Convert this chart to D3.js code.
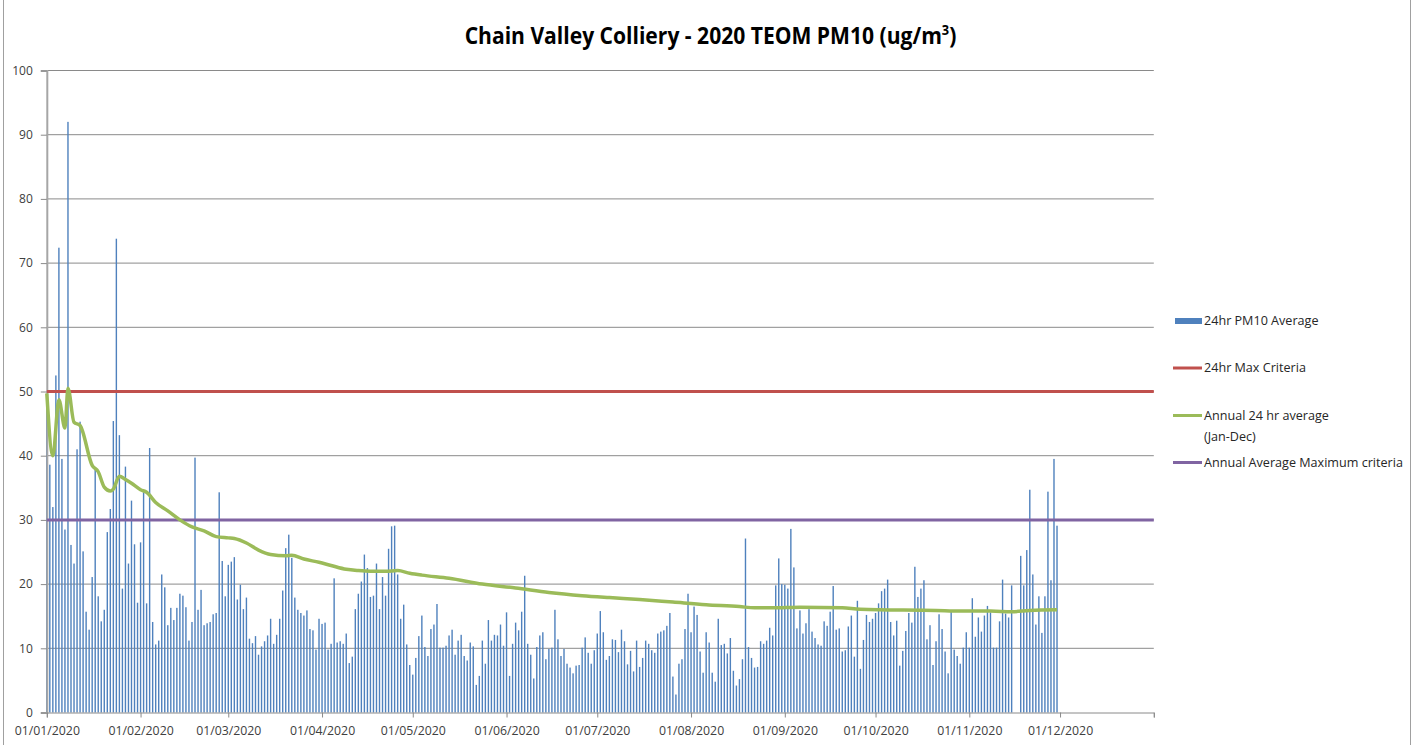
<!DOCTYPE html>
<html>
<head>
<meta charset="utf-8">
<script src="https://cdn.jsdelivr.net/npm/d3@7"></script>
<style>
  body { margin: 0; background: #fff; }
  text { font-family: "Open Sans", sans-serif; }
</style>
</head>
<body>
<div id="chart"></div>
<script>
const width = 1419;
const height = 745;

const startDate = "2020-01-01";
const endDate = "2021-01-01";

// daily 24hr PM10 averages, one array per month
const pm10Jan = [49.5, 38.6, 32, 52.5, 72.4, 39.5, 28.5, 92, 26.1, 23.2, 41, 45.3, 25.1, 15.7, 12.9, 21.1, 37.8, 18.1, 14.2, 16.0, 28.1, 31.7, 45.4, 73.8, 43.2, 19.3, 38.3, 23.2, 33.0, 26.2, 17.1];
const pm10Feb = [26.5, 34.3, 17.0, 41.2, 14.1, 10.6, 11.2, 21.5, 19.5, 13.6, 16.3, 14.4, 16.3, 18.5, 18.2, 16.4, 11.2, 14.1, 39.7, 16.0, 19.1, 13.6, 13.9, 14.1, 15.3, 15.5, 34.3, 23.6, 18.1];
const pm10Mar = [23.0, 23.5, 24.2, 17.6, 19.9, 16.1, 17.9, 11.5, 10.8, 11.9, 9.0, 10.3, 11.1, 12.0, 14.6, 10.7, 12.1, 14.6, 19.0, 25.6, 27.7, 24.1, 17.9, 16.0, 15.5, 15.1, 15.9, 13.0, 12.8, 9.8, 14.6];
const pm10Apr = [13.8, 14.0, 9.8, 10.7, 20.9, 10.9, 11.1, 10.7, 12.3, 7.7, 8.7, 16.1, 18.5, 20.4, 24.6, 22.5, 18.0, 18.2, 23.2, 16.1, 21.1, 18.2, 25.5, 29.0, 29.1, 21.5, 14.6, 16.8, 10.6, 7.4];
const pm10May = [5.9, 8.5, 11.9, 15.1, 10.2, 8.8, 13.0, 13.7, 16.9, 10.1, 10.1, 10.4, 12.0, 12.9, 9.0, 11.2, 12.1, 8.8, 8.1, 10.9, 10.3, 4.3, 5.7, 11.2, 7.6, 14.4, 11.2, 12.1, 12.0, 13.7, 10.4];
const pm10Jun = [15.6, 5.7, 10.7, 14.0, 12.8, 15.7, 21.3, 10.7, 9.0, 5.3, 10.2, 12.0, 12.5, 8.3, 9.9, 10.1, 16.0, 11.4, 8.8, 9.9, 7.6, 7.0, 6.1, 7.3, 7.4, 10.1, 11.7, 9.3, 7.6, 9.7];
const pm10Jul = [12.3, 15.8, 12.5, 8.2, 8.8, 11.4, 11.3, 9.4, 12.9, 11.1, 7.5, 9.6, 6.4, 11.2, 7.1, 8.5, 11.2, 10.7, 9.7, 9.3, 12.3, 12.6, 12.8, 13.5, 15.5, 5.6, 2.8, 7.6, 8.3, 13.0, 18.5];
const pm10Aug = [12.5, 16.5, 15.2, 9.5, 6.2, 12.5, 10.9, 6.2, 4.8, 14.6, 10.5, 10.7, 9.2, 11.6, 6.5, 4.2, 5.2, 8.3, 27.1, 10.2, 8.5, 7.0, 7.1, 11.1, 10.7, 11.2, 13.2, 12.0, 19.8, 24.0, 20.0];
const pm10Sep = [19.9, 19.3, 28.6, 22.6, 13.1, 15.9, 12.3, 13.9, 16.1, 12.6, 11.6, 10.6, 10.4, 14.2, 13.5, 15.7, 19.7, 12.9, 13.1, 9.5, 9.7, 13.4, 15.1, 8.7, 17.4, 6.8, 11.3, 15.2, 14.1, 14.6];
const pm10Oct = [15.5, 17.0, 18.9, 19.3, 20.7, 14.1, 12.0, 14.3, 7.3, 9.6, 12.7, 15.5, 14.0, 22.7, 18.0, 19.3, 20.6, 11.4, 13.6, 7.4, 11.1, 15.3, 13.0, 9.5, 6.1, 15.7, 9.8, 8.8, 7.6, 10.1, 12.5];
const pm10Nov = [10.1, 17.8, 11.8, 14.8, 12.6, 15.1, 16.6, 15.6, 10.1, 10.1, 14.2, 20.7, 15.4, 14.8, 19.8, null, null, 24.4, 19.8, 25.3, 34.7, 21.5, 13.7, 18.1, 12.4, 18.1, 34.4, 20.6, 39.5, 29.1];

// annual 24 hr average (Jan-Dec), read at day offsets from 1 Jan
const avgDays = [0, 2, 4, 6, 7, 9, 11, 15, 17, 19, 21, 22, 24, 26, 28, 31, 33, 36, 40, 44, 48, 52, 56, 60, 62, 66, 70, 74, 79, 81, 85, 90, 94, 99, 103, 107, 112, 116, 120, 124, 133, 144, 155, 166, 177, 186, 196, 207, 218, 229, 234, 240, 249, 263, 269, 294, 302, 312, 319, 325, 334];
const avgValues = [49.7, 40.0, 48.7, 44.3, 50.5, 45.2, 44.7, 38.5, 37.5, 35.1, 34.5, 34.8, 36.8, 36.3, 35.7, 34.7, 34.3, 32.7, 31.4, 30.0, 28.9, 28.3, 27.4, 27.2, 27.1, 26.4, 25.3, 24.6, 24.4, 24.5, 23.9, 23.4, 22.9, 22.3, 22.1, 22.0, 22.0, 22.1, 21.7, 21.4, 20.9, 20.0, 19.4, 18.7, 18.2, 17.9, 17.6, 17.2, 16.8, 16.5, 16.3, 16.3, 16.4, 16.3, 16.1, 15.9, 15.8, 15.8, 15.7, 15.9, 16.0];

const maxCriteria = 50;
const annualCriteria = 30;

const yTicks = [0, 10, 20, 30, 40, 50, 60, 70, 80, 90, 100];
const tickLabels = ["01/01/2020", "01/02/2020", "01/03/2020", "01/04/2020", "01/05/2020", "01/06/2020",
  "01/07/2020", "01/08/2020", "01/09/2020", "01/10/2020", "01/11/2020", "01/12/2020", ""];
const legendLabels = ["24hr PM10 Average", "24hr Max Criteria", "Annual 24 hr average|(Jan-Dec)", "Annual Average Maximum criteria"];
const colors = { bar: "#4f81bd", max: "#c0504d", avg: "#9bbb59", annual: "#8064a2" };

const parse = d3.utcParse("%Y-%m-%d");
const start = parse(startDate);

const bars = [pm10Jan, pm10Feb, pm10Mar, pm10Apr, pm10May, pm10Jun, pm10Jul, pm10Aug, pm10Sep, pm10Oct, pm10Nov]
  .flat()
  .map((v, i) => ({ date: d3.utcDay.offset(start, i), value: v }))
  .filter(d => d.value != null);

const svg = d3.select("#chart")
  .append("svg")
  .attr("width", width)
  .attr("height", height);

svg.append("rect")
  .attr("width", width).attr("height", height).attr("fill", "#fff");

// chart area border
svg.append("rect")
  .attr("x", 3.5).attr("y", -5)
  .attr("width", 1407).attr("height", 760)
  .attr("fill", "none").attr("stroke", "#a0a0a0");

const x = d3.scaleUtc()
  .domain([start, parse(endDate)])
  .range([46.8, 1153.8]);

const y = d3.scaleLinear()
  .domain([0, 100])
  .range([712.5, 70.5]);

// gridlines
svg.append("g")
  .selectAll("line")
  .data(yTicks.filter(t => t > 0))
  .enter().append("line")
  .attr("x1", x.range()[0]).attr("x2", x.range()[1])
  .attr("y1", d => y(d)).attr("y2", d => y(d))
  .attr("stroke", "#8a8a8a").attr("stroke-width", 1);

// daily bars
const bw = 1.4;
svg.append("g")
  .selectAll("rect")
  .data(bars)
  .enter().append("rect")
  .attr("x", d => x(d.date) - bw / 2)
  .attr("width", bw)
  .attr("y", d => y(d.value))
  .attr("height", d => y(0) - y(d.value))
  .attr("fill", colors.bar);

// y axis
const yAxis = svg.append("g")
  .attr("transform", `translate(${x.range()[0]},0)`)
  .call(d3.axisLeft(y).tickValues(yTicks).tickSize(6).tickPadding(8));
yAxis.select(".domain").attr("stroke", "#a6a6a6").attr("stroke-width", 2);
yAxis.selectAll(".tick line").attr("stroke", "#8a8a8a");
yAxis.selectAll("text").attr("font-size", 12).attr("fill", "#404040")
  .attr("font-family", "'Open Sans', sans-serif");

// x axis
const monthTicks = d3.utcMonth.range(start, d3.utcDay.offset(parse(endDate), 1));
const xAxis = svg.append("g")
  .attr("transform", `translate(0,${y(0)})`)
  .call(d3.axisBottom(x).tickValues(monthTicks).tickSize(5).tickPadding(9)
    .tickFormat((d, i) => tickLabels[i]));
xAxis.select(".domain").attr("stroke", "#8a8a8a");
xAxis.selectAll(".tick line").attr("stroke", "#8a8a8a");
xAxis.selectAll("text").attr("font-size", 12.3).attr("fill", "#404040")
  .attr("font-family", "'Open Sans', sans-serif");

// criteria lines
svg.append("line")
  .attr("x1", x.range()[0]).attr("x2", x.range()[1])
  .attr("y1", y(maxCriteria)).attr("y2", y(maxCriteria))
  .attr("stroke", colors.max).attr("stroke-width", 3);

svg.append("line")
  .attr("x1", x.range()[0]).attr("x2", x.range()[1])
  .attr("y1", y(annualCriteria)).attr("y2", y(annualCriteria))
  .attr("stroke", colors.annual).attr("stroke-width", 3);

// running annual average
const avgLine = d3.line()
  .x(d => x(d3.utcDay.offset(start, d[0])))
  .y(d => y(d[1]))
  .curve(d3.curveMonotoneX);

svg.append("path")
  .datum(avgDays.map((d, i) => [d, avgValues[i]]))
  .attr("d", avgLine)
  .attr("fill", "none")
  .attr("stroke", colors.avg)
  .attr("stroke-width", 3.5)
  .attr("stroke-linejoin", "round");

// title
const title = svg.append("text")
  .attr("x", 710.5).attr("y", 44.5)
  .attr("text-anchor", "middle")
  .attr("font-size", 23)
  .attr("font-weight", "bold")
  .attr("fill", "#000");
title.append("tspan").text("Chain Valley Colliery - 2020 TEOM PM10 (ug/m");
title.append("tspan").text("3").attr("font-size", 14).attr("dy", -9);
title.append("tspan").text(")").attr("dy", 9);

const tw = title.node().getBBox().width;
const sx = 492 / tw;
title.attr("transform", `translate(${710.5 * (1 - sx)},0) scale(${sx},1)`);

// legend
const legend = svg.append("g").attr("font-size", 12.6).attr("fill", "#262626");
const legendY = [321, 368, 415.5, 462.5];

legend.append("rect")
  .attr("x", 1175).attr("y", legendY[0] - 3)
  .attr("width", 27).attr("height", 6)
  .attr("fill", colors.bar);

[colors.max, colors.avg, colors.annual].forEach((c, i) => {
  legend.append("line")
    .attr("x1", 1173).attr("x2", 1202)
    .attr("y1", legendY[i + 1]).attr("y2", legendY[i + 1])
    .attr("stroke", c).attr("stroke-width", 3);
});

legendLabels.forEach((label, i) => {
  label.split("|").forEach((part, j) => {
    legend.append("text")
      .attr("x", 1204)
      .attr("y", legendY[i] + j * 21)
      .attr("dy", "0.35em")
      .attr("fill", "#262626")
      .text(part);
  });
});
</script>
</body>
</html>
